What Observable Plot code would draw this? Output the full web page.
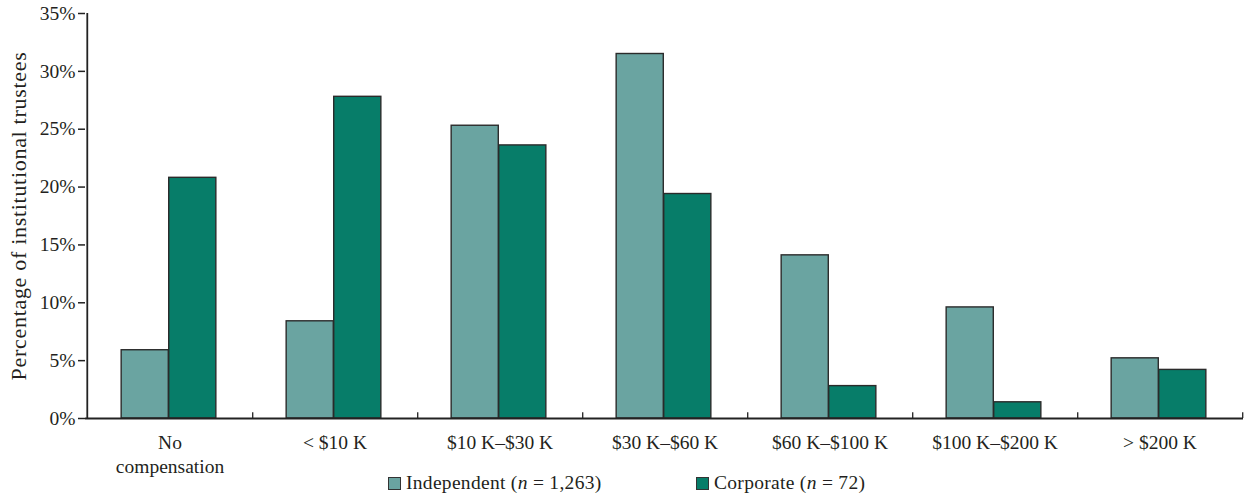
<!DOCTYPE html>
<html>
<head>
<meta charset="utf-8">
<script src="https://cdn.jsdelivr.net/npm/d3@7"></script>
<script src="https://cdn.jsdelivr.net/npm/@observablehq/plot@0.6"></script>
<style>
  html, body { margin: 0; padding: 0; background: #fff; }
  #wrap { position: relative; width: 1246px; height: 496px; }
  #legend { position: absolute; left: 388px; top: 472px; display: flex; align-items: center; height: 22px;
    font-family: "Liberation Serif", serif; font-size: 19.5px; color: #231f20; letter-spacing: 0.3px; }
  .item { display: flex; align-items: center; }
  .item:first-child { width: 308px; }
  .sw { width: 11px; height: 11px; border: 1px solid #333; margin-right: 5px; }
  g[aria-label="y-axis label"] text { letter-spacing: 0.7px; }
</style>
</head>
<body>
<div id="wrap">
<div id="chart"></div>
<div id="legend"></div>
</div>
<script>
const categories = ["No\ncompensation", "< $10 K", "$10 K–$30 K", "$30 K–$60 K", "$60 K–$100 K", "$100 K–$200 K", "> $200 K"];
const series = ["Independent", "Corporate"];
const seriesLabels = ["Independent (<i>n</i> = 1,263)", "Corporate (<i>n</i> = 72)"];
const independent = [5.9, 8.4, 25.3, 31.5, 14.1, 9.6, 5.2];
const corporate = [20.8, 27.8, 23.6, 19.4, 2.8, 1.4, 4.2];
const yTicks = [0, 5, 10, 15, 20, 25, 30, 35];
const colors = ["#6aa4a1", "#077d69"];

const data = [];
categories.forEach((c, i) => {
  data.push({category: c, series: series[0], value: independent[i]});
  data.push({category: c, series: series[1], value: corporate[i]});
});

const W = 1246, ML = 85, MR = 3;
const step = (W - ML - MR) / categories.length;
const pad = 0.425;
const bw = step * (1 - pad) / 2;
const gap = step * pad / 2;

const chart = Plot.plot({
  width: W, height: 496,
  marginLeft: ML, marginRight: MR, marginTop: 13, marginBottom: 78,
  style: {fontFamily: "Liberation Serif, serif", fontSize: "19px", color: "#231f20", background: "#fff"},
  x: {domain: categories, padding: 0},
  y: {domain: [0, 35]},
  color: {domain: series, range: colors},
  marks: [
    Plot.barY(data.filter(d => d.series === series[0]), {
      x: "category", y: "value", fill: "series", stroke: "#2b2b2b", strokeWidth: 1.4,
      insetLeft: gap - 1, insetRight: step - gap - bw + 1
    }),
    Plot.barY(data.filter(d => d.series === series[1]), {
      x: "category", y: "value", fill: "series", stroke: "#2b2b2b", strokeWidth: 1.4,
      insetLeft: gap + bw - 1, insetRight: gap + 1
    }),
    Plot.ruleY([0], {stroke: "#222", strokeWidth: 1.8}),
    Plot.ruleX([categories[0]], {dx: -step / 2, y1: 0, y2: 35, stroke: "#222", strokeWidth: 1.8}),
    Plot.ruleX(categories, {dx: step / 2, y1: 0, y2: 0.5, stroke: "#222", strokeWidth: 1.3}),
    Plot.axisX({tickSize: 0, tickPadding: 14, label: null, lineHeight: 1.2, fontSize: 19.5}),
    Plot.axisY({ticks: yTicks, tickFormat: d => d + "%", tickSize: 7, tickPadding: 3, stroke: "#222", strokeWidth: 1.5,
      fontSize: 19.5,
      label: "Percentage of institutional trustees", labelAnchor: "center", labelOffset: 75, labelArrow: "none"})
  ]
});
document.getElementById("chart").appendChild(chart);
// larger y-axis title
d3.select(chart).selectAll('g[aria-label="y-axis label"] text').style("font-size", "22px");

const legend = document.getElementById("legend");
series.forEach((s, i) => {
  const item = document.createElement("div");
  item.className = "item";
  item.innerHTML = `<span class="sw" style="background:${colors[i]}"></span><span>${seriesLabels[i]}</span>`;
  legend.appendChild(item);
});
</script>
</body>
</html>
